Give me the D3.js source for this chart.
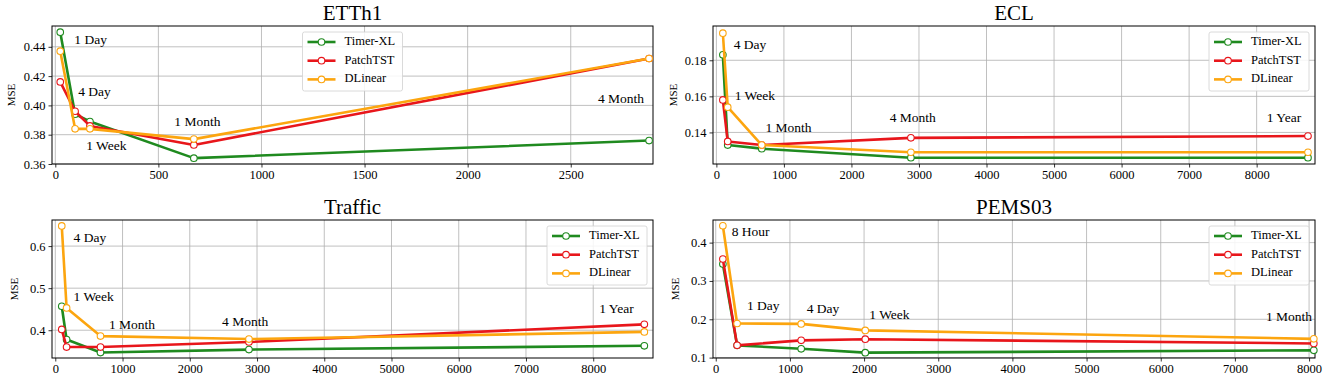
<!DOCTYPE html>
<html>
<head>
<meta charset="utf-8">
<script src="https://cdn.jsdelivr.net/npm/d3@7"></script>
<style>
  html, body { margin: 0; padding: 0; background: #fff; }
  svg { display: block; }
  svg text { font-family: "Liberation Serif", "Times New Roman", Times, "Tinos", serif !important; }
</style>
</head>
<body>
<svg id="chart" width="1326" height="379"></svg>
<script>
// ---------------- DATA ----------------
const seriesNames = ["Timer-XL", "PatchTST", "DLinear"];
const seriesColors = ["#1f8a1f", "#e8161b", "#fca50f"];

// ETTh1
const ettTitle = "ETTh1";
const ettX = [24, 96, 168, 672, 2880];
const ettTimer = [0.450, 0.394, 0.389, 0.364, 0.376];
const ettPatch = [0.416, 0.396, 0.386, 0.373, 0.432];
const ettDLinear = [0.437, 0.384, 0.384, 0.377, 0.432];
const ettXTicks = [0, 500, 1000, 1500, 2000, 2500];
const ettYTicks = [0.36, 0.38, 0.40, 0.42, 0.44];
const ettXDomain = [-16, 2899];
const ettYDomain = [0.36, 0.4542];
const ettLabels = ["1 Day", "4 Day", "1 Week", "1 Month", "4 Month"];
const ettLabelX = [92, 111, 150, 577, 2632];
const ettLabelY = [0.4438, 0.4083, 0.3716, 0.3878, 0.4035];

// ECL
const eclTitle = "ECL";
const eclX = [96, 168, 672, 2880, 8760];
const eclTimer = [0.183, 0.133, 0.131, 0.126, 0.126];
const eclPatch = [0.158, 0.135, 0.133, 0.137, 0.138];
const eclDLinear = [0.195, 0.154, 0.133, 0.129, 0.129];
const eclXTicks = [0, 1000, 2000, 3000, 4000, 5000, 6000, 7000, 8000];
const eclYTicks = [0.14, 0.16, 0.18];
const eclXDomain = [-50, 8864];
const eclYDomain = [0.1225, 0.199];
const eclLabels = ["4 Day", "1 Week", "1 Month", "4 Month", "1 Year"];
const eclLabelX = [256, 271, 726, 2567, 8148];
const eclLabelY = [0.1877, 0.1596, 0.1422, 0.1474, 0.1474];

// Traffic
const trfTitle = "Traffic";
const trfX = [96, 168, 672, 2880, 8760];
const trfTimer = [0.457, 0.378, 0.347, 0.354, 0.363];
const trfPatch = [0.402, 0.360, 0.360, 0.372, 0.414];
const trfDLinear = [0.648, 0.453, 0.386, 0.379, 0.396];
const trfXTicks = [0, 1000, 2000, 3000, 4000, 5000, 6000, 7000, 8000];
const trfYTicks = [0.4, 0.5, 0.6];
const trfXDomain = [-49, 8889];
const trfYDomain = [0.334, 0.662];
const trfLabels = ["4 Day", "1 Week", "1 Month", "4 Month", "1 Year"];
const trfLabelX = [272, 272, 798, 2481, 8088];
const trfLabelY = [0.616, 0.477, 0.410, 0.4174, 0.449];

// PEMS03
const pemsTitle = "PEMS03";
const pemsX = [96, 288, 1152, 2016, 8064];
const pemsTimer = [0.344, 0.132, 0.123, 0.113, 0.119];
const pemsPatch = [0.357, 0.132, 0.145, 0.148, 0.137];
const pemsDLinear = [0.444, 0.189, 0.188, 0.171, 0.149];
const pemsXTicks = [0, 1000, 2000, 3000, 4000, 5000, 6000, 7000, 8000];
const pemsYTicks = [0.1, 0.2, 0.3, 0.4];
const pemsXDomain = [-37, 8080];
const pemsYDomain = [0.099, 0.459];
const pemsLabels = ["8 Hour", "1 Day", "4 Day", "1 Week", "1 Month"];
const pemsLabelX = [215, 420, 1227, 2070, 7419];
const pemsLabelY = [0.426, 0.2325, 0.2257, 0.2089, 0.2047];

// ---------------- LAYOUT ----------------
const panels = [
  { title: ettTitle, x: ettX, ys: [ettTimer, ettPatch, ettDLinear], xt: ettXTicks, yt: ettYTicks, xd: ettXDomain, yd: ettYDomain, yfmt: ".2f",
    labels: ettLabels, lx: ettLabelX, ly: ettLabelY, box: { l: 52, r: 653, t: 26, b: 164 }, legend: "center", ylabX: 12 },
  { title: eclTitle, x: eclX, ys: [eclTimer, eclPatch, eclDLinear], xt: eclXTicks, yt: eclYTicks, xd: eclXDomain, yd: eclYDomain, yfmt: ".2f",
    labels: eclLabels, lx: eclLabelX, ly: eclLabelY, box: { l: 713, r: 1315, t: 26, b: 164 }, legend: "right", ylabX: 674 },
  { title: trfTitle, x: trfX, ys: [trfTimer, trfPatch, trfDLinear], xt: trfXTicks, yt: trfYTicks, xd: trfXDomain, yd: trfYDomain, yfmt: ".1f",
    labels: trfLabels, lx: trfLabelX, ly: trfLabelY, box: { l: 52, r: 653, t: 220, b: 358 }, legend: "right", ylabX: 15 },
  { title: pemsTitle, x: pemsX, ys: [pemsTimer, pemsPatch, pemsDLinear], xt: pemsXTicks, yt: pemsYTicks, xd: pemsXDomain, yd: pemsYDomain, yfmt: ".1f",
    labels: pemsLabels, lx: pemsLabelX, ly: pemsLabelY, box: { l: 713, r: 1315, t: 220, b: 358 }, legend: "right", ylabX: 676 }
];

const svg = d3.select("#chart");

panels.forEach(p => {
  const { l, r, t, b } = p.box;
  const x = d3.scaleLinear().domain(p.xd).range([l, r]);
  const y = d3.scaleLinear().domain(p.yd).range([b, t]);
  const g = svg.append("g");

  // grid
  g.append("g").selectAll("line.gx").data(p.xt).join("line")
    .attr("x1", d => x(d)).attr("x2", d => x(d)).attr("y1", t).attr("y2", b)
    .attr("stroke", "#b0b0b0").attr("stroke-width", 0.8);
  g.append("g").selectAll("line.gy").data(p.yt).join("line")
    .attr("y1", d => y(d)).attr("y2", d => y(d)).attr("x1", l).attr("x2", r)
    .attr("stroke", "#b0b0b0").attr("stroke-width", 0.8);

  // axes
  const xAxis = d3.axisBottom(x).tickValues(p.xt).tickFormat(d3.format("d")).tickSize(3.5).tickPadding(3);
  const yAxis = d3.axisLeft(y).tickValues(p.yt).tickFormat(d3.format(p.yfmt)).tickSize(3.5).tickPadding(3);
  const gx = g.append("g").attr("transform", `translate(0,${b})`).call(xAxis);
  const gy = g.append("g").attr("transform", `translate(${l},0)`).call(yAxis);
  [gx, gy].forEach(a => {
    a.attr("font-family", null);
    a.select(".domain").remove();
    a.selectAll("text").attr("font-size", 12.5).attr("fill", "#000");
    a.selectAll("line").attr("stroke", "#000").attr("stroke-width", 0.8);
  });

  // frame
  g.append("rect").attr("x", l).attr("y", t).attr("width", r - l).attr("height", b - t)
    .attr("fill", "none").attr("stroke", "#000").attr("stroke-width", 1);

  // y label
  g.append("text").attr("transform", `translate(${p.ylabX},${(t + b) / 2}) rotate(-90)`)
    .attr("text-anchor", "middle").attr("dominant-baseline", "middle")
    .attr("font-size", 11).text("MSE");

  // title
  g.append("text").attr("x", (l + r) / 2).attr("y", t - 6).attr("text-anchor", "middle")
    .attr("font-size", 21).text(p.title);

  // clip
  const clipId = "clip-" + p.title;
  svg.append("clipPath").attr("id", clipId).append("rect")
    .attr("x", l - 6).attr("y", t - 6).attr("width", r - l + 12).attr("height", b - t + 12);

  const line = d3.line().x(d => x(d[0])).y(d => y(d[1]));
  p.ys.forEach((vals, i) => {
    const pts = p.x.map((xv, j) => [xv, vals[j]]);
    const sg = g.append("g").attr("clip-path", `url(#${clipId})`);
    sg.append("path").datum(pts).attr("d", line)
      .attr("fill", "none").attr("stroke", seriesColors[i]).attr("stroke-width", 2.6)
      .attr("stroke-linejoin", "round").attr("stroke-linecap", "round");
    sg.selectAll("circle").data(pts).join("circle")
      .attr("cx", d => x(d[0])).attr("cy", d => y(d[1])).attr("r", 3.3)
      .attr("fill", "#fff").attr("stroke", seriesColors[i]).attr("stroke-width", 1.1);
  });

  // annotations
  g.append("g").selectAll("text").data(p.labels).join("text")
    .attr("x", (d, i) => x(p.lx[i])).attr("y", (d, i) => y(p.ly[i]))
    .attr("dominant-baseline", "middle").attr("font-size", 13.5).text(d => d);

  // legend
  const lw = 100, lh = 59;
  const lx0 = p.legend === "center" ? (l + r) / 2 - lw / 2 : r - 6 - lw;
  const ly0 = t + 6;
  const lg = g.append("g").attr("transform", `translate(${lx0},${ly0})`);
  lg.append("rect").attr("width", lw).attr("height", lh).attr("rx", 2)
    .attr("fill", "#fff").attr("fill-opacity", 0.85).attr("stroke", "#d0d0d0").attr("stroke-width", 0.8);
  seriesNames.forEach((name, i) => {
    const ry = 10 + i * 18.7;
    lg.append("line").attr("x1", 5).attr("x2", 33).attr("y1", ry).attr("y2", ry)
      .attr("stroke", seriesColors[i]).attr("stroke-width", 2.6);
    lg.append("circle").attr("cx", 19).attr("cy", ry).attr("r", 3.3)
      .attr("fill", "#fff").attr("stroke", seriesColors[i]).attr("stroke-width", 1.1);
    lg.append("text").attr("x", 42).attr("y", ry).attr("dominant-baseline", "middle")
      .attr("font-size", 12.5).text(name);
  });
});
</script>
</body>
</html>
